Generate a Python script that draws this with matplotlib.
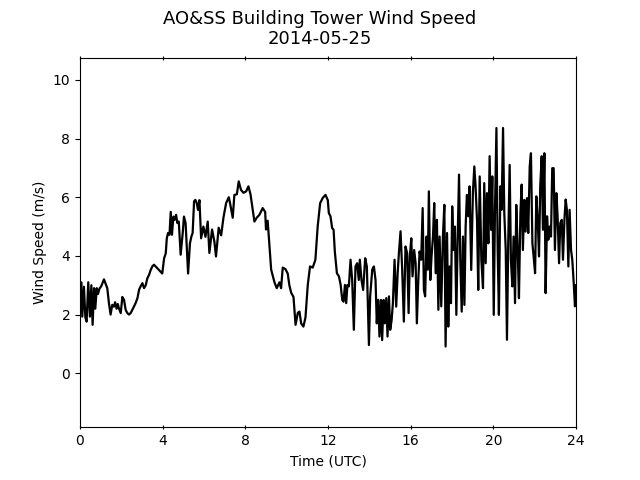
import numpy as np
import matplotlib
matplotlib.use("Agg")
import matplotlib.pyplot as plt

# Wind speed (m/s), hours UTC
hours = [
    0.00, 0.03, 0.06, 0.11, 0.19, 0.26, 0.32, 0.40, 0.48, 0.55, 0.61, 0.68, 0.74, 0.81, 0.87, 0.94,
    1.03, 1.16, 1.24, 1.32, 1.40, 1.48, 1.56, 1.64, 1.70, 1.77, 1.83, 1.88, 1.97,
    2.05, 2.13, 2.21, 2.29, 2.37, 2.45, 2.53, 2.61, 2.69, 2.78, 2.86, 2.94,
    3.02, 3.10, 3.18, 3.26, 3.34, 3.42, 3.50, 3.58, 3.66, 3.74, 3.82, 3.90, 3.98,
    4.07, 4.15, 4.20, 4.26, 4.33, 4.39, 4.45, 4.52, 4.58, 4.65, 4.71, 4.78, 4.87, 4.97,
    5.03, 5.11, 5.23, 5.32, 5.39, 5.45, 5.52, 5.58, 5.65, 5.71, 5.78, 5.86, 5.97,
    6.07, 6.18, 6.26, 6.39, 6.50, 6.58, 6.71, 6.83, 6.94,
    7.07, 7.20, 7.26, 7.39, 7.47, 7.59, 7.68, 7.79, 7.91,
    8.04, 8.15, 8.25, 8.36, 8.44, 8.55, 8.68, 8.84, 8.96,
    9.00, 9.08, 9.17, 9.25, 9.41, 9.52, 9.65, 9.73, 9.81, 9.94,
    10.05, 10.13, 10.22, 10.33, 10.43, 10.54, 10.62, 10.70, 10.81, 10.91,
    11.02, 11.13, 11.26, 11.39, 11.50, 11.62, 11.75, 11.88, 11.99,
    12.04, 12.12, 12.20, 12.27, 12.33, 12.43, 12.53, 12.61, 12.69, 12.75, 12.82, 12.88, 12.94,
    13.01, 13.09, 13.17, 13.25, 13.33, 13.41, 13.49, 13.54, 13.62, 13.70, 13.80, 13.88, 13.98,
    14.04, 14.14, 14.22, 14.30, 14.36, 14.43, 14.49, 14.56, 14.62, 14.69, 14.75, 14.82, 14.88, 14.95,
    15.01, 15.08, 15.14, 15.22, 15.30, 15.37, 15.43, 15.51, 15.59, 15.67, 15.75, 15.83, 15.90, 15.96,
    16.03, 16.09, 16.17, 16.24, 16.30, 16.37, 16.43, 16.51, 16.58, 16.64, 16.70, 16.77, 16.83, 16.88, 16.95,
    17.01, 17.08, 17.14, 17.21, 17.27, 17.34, 17.40, 17.48, 17.56, 17.63, 17.69, 17.76, 17.82, 17.88, 17.95,
    18.01, 18.08, 18.14, 18.21, 18.27, 18.34, 18.40, 18.47, 18.53, 18.60, 18.66, 18.72, 18.79, 18.85, 18.93,
    19.01, 19.08, 19.14, 19.21, 19.27, 19.34, 19.42, 19.50, 19.56, 19.63, 19.69, 19.76, 19.82, 19.89, 19.95,
    20.02, 20.08, 20.15, 20.21, 20.27, 20.34, 20.40, 20.47, 20.53, 20.60, 20.66, 20.72, 20.79, 20.85, 20.92, 20.98,
    21.05, 21.11, 21.18, 21.24, 21.31, 21.37, 21.43, 21.50, 21.56, 21.63, 21.69, 21.76, 21.82, 21.89, 21.95,
    22.02, 22.08, 22.15, 22.21, 22.27, 22.34, 22.40, 22.47, 22.53, 22.60, 22.66, 22.73, 22.79, 22.85, 22.92, 22.98,
    23.05, 23.11, 23.18, 23.24, 23.31, 23.37, 23.44, 23.50, 23.56, 23.63, 23.69, 23.76, 23.82, 23.89, 23.95, 24.00,
]
speed = [
    3.00, 2.80, 3.10, 1.93, 2.95, 1.90, 1.76, 3.10, 1.93, 3.00, 1.65, 2.90, 2.20, 2.90, 2.70, 2.88,
    2.97, 3.20, 3.05, 2.90, 2.39, 2.00, 2.33, 2.27, 2.42, 2.20, 2.36, 2.22, 2.05,
    2.60, 2.50, 2.16, 2.05, 2.00, 2.05, 2.16, 2.27, 2.39, 2.56, 2.85, 2.97,
    3.07, 2.90, 3.00, 3.24, 3.35, 3.52, 3.64, 3.70, 3.64, 3.58, 3.52, 3.46, 3.40,
    3.92, 4.09, 4.60, 4.78, 4.72, 5.50, 4.72, 5.34, 5.23, 5.40, 5.12, 5.17, 4.04, 4.78,
    5.34, 5.12, 3.40, 4.43, 4.66, 4.78, 5.86, 5.91, 5.80, 5.57, 5.90, 4.60, 5.00,
    4.65, 5.17, 4.10, 4.90, 4.50, 3.98, 4.96, 4.70, 5.30,
    5.80, 6.00, 5.80, 5.30, 6.08, 6.10, 6.54, 6.25, 6.15,
    6.20, 6.37, 6.10, 5.57, 5.17, 5.30, 5.40, 5.63, 5.50,
    4.90, 5.20, 4.32, 3.53, 3.10, 2.90, 3.10, 2.90, 3.60, 3.55,
    3.40, 3.00, 2.74, 2.60, 1.65, 2.06, 2.10, 1.70, 1.59, 1.90,
    3.00, 3.64, 3.60, 3.87, 5.00, 5.80, 5.98, 6.08, 5.90,
    5.46, 5.35, 4.95, 4.89, 4.15, 3.41, 3.30, 3.02, 2.50, 2.44, 3.01, 2.39, 3.01,
    2.96, 3.87, 3.18, 1.48, 3.64, 3.75, 3.18, 3.87, 3.18, 2.84, 3.92, 3.64, 0.96,
    2.62, 3.53, 3.64, 3.18, 1.70, 2.50, 1.25, 2.50, 1.13, 2.50, 1.70, 2.56, 1.25, 2.62,
    1.48, 1.82, 2.39, 3.87, 2.27, 3.41, 4.09, 4.84, 3.53, 1.76, 4.32, 4.09, 2.05, 3.98,
    4.60, 3.30, 4.20, 3.75, 1.70, 3.18, 4.15, 3.87, 5.63, 2.84, 2.62, 4.66, 3.53, 6.20, 3.18,
    3.98, 4.66, 5.80, 3.41, 5.23, 2.16, 4.66, 2.28, 4.66, 5.74, 0.91, 4.78, 1.59, 3.64, 2.39,
    5.69, 4.20, 5.00, 1.99, 4.43, 6.77, 3.87, 2.10, 4.66, 2.33, 5.00, 6.08, 5.35, 6.37, 3.52,
    6.14, 7.05, 6.37, 5.23, 2.84, 6.71, 3.87, 2.90, 6.48, 3.75, 6.14, 4.43, 7.40, 4.89, 6.71,
    1.99, 5.57, 8.36, 4.20, 1.99, 6.37, 5.57, 8.36, 5.46, 4.20, 1.14, 4.43, 7.10, 3.87, 2.96, 4.66,
    2.39, 5.74, 4.20, 2.56, 5.46, 6.43, 4.20, 5.91, 4.83, 5.97, 4.78, 7.05, 7.50, 4.43, 3.98,
    3.41, 6.03, 5.23, 3.98, 6.37, 7.40, 4.89, 7.50, 2.73, 5.35, 4.55, 5.00, 4.66, 6.99, 6.99, 4.20,
    6.14, 5.35, 3.75, 5.12, 5.23, 3.87, 5.23, 5.92, 5.57, 3.64, 5.57, 4.20, 3.87, 3.07, 2.28, 3.00,
]

fig, ax = plt.subplots(figsize=(6.4, 4.8), dpi=100)
ax.plot(hours, speed, color="black", linewidth=1.6)

ax.set_xlim(0, 24)
ax.set_ylim(-1.84, 10.76)
ax.set_xticks(np.arange(0, 25, 4))
ax.tick_params(axis="x", direction="inout", top=True)

ax.set_xlabel("Time (UTC)")
ax.set_ylabel("Wind Speed (m/s)")
fig.suptitle("AO&SS Building Tower Wind Speed\n2014-05-25", fontsize=13)

fig.savefig("out.png", dpi=100)
